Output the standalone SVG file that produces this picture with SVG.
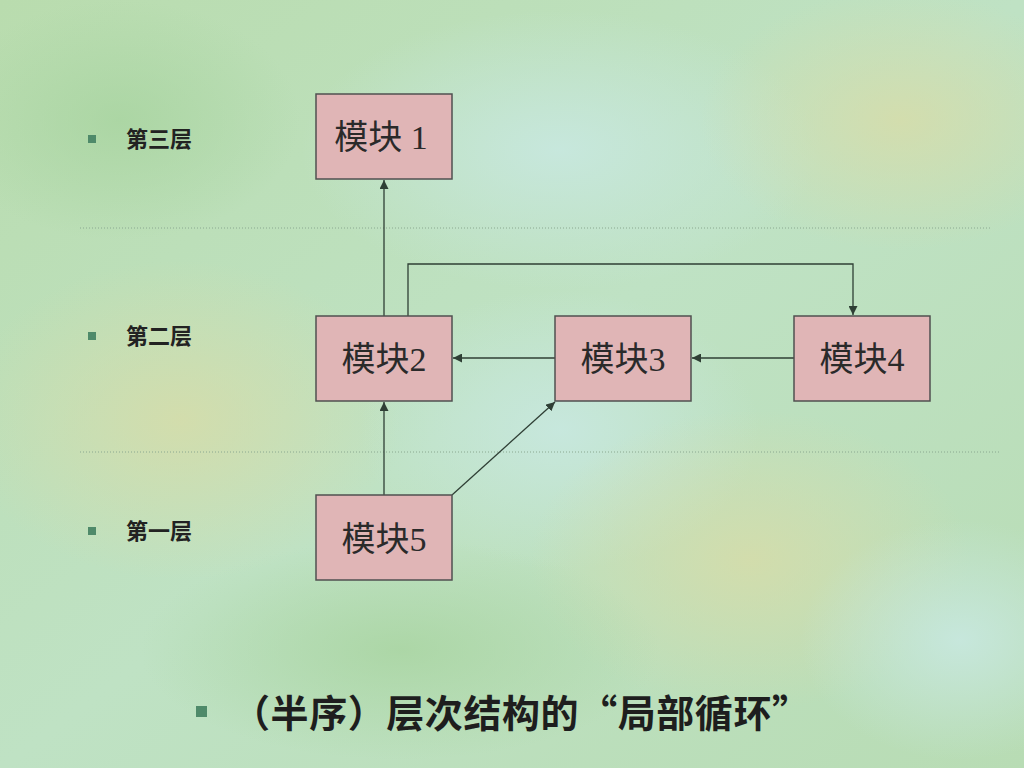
<svg xmlns="http://www.w3.org/2000/svg" width="1024" height="768" viewBox="0 0 1024 768">
<defs>
<linearGradient id="bg" x1="0" y1="0" x2="1" y2="1">
<stop offset="0" stop-color="#b9dcae"/>
<stop offset="0.5" stop-color="#bfe2c4"/>
<stop offset="1" stop-color="#b8dcb4"/>
</linearGradient>
<radialGradient id="b1" cx="0.5" cy="0.5" r="0.5">
<stop offset="0" stop-color="#c8e8e0" stop-opacity="0.9"/>
<stop offset="1" stop-color="#c8e8e0" stop-opacity="0"/>
</radialGradient>
<radialGradient id="y1" cx="0.5" cy="0.5" r="0.5">
<stop offset="0" stop-color="#d8dca8" stop-opacity="0.8"/>
<stop offset="1" stop-color="#d8dca8" stop-opacity="0"/>
</radialGradient>
<radialGradient id="g1" cx="0.5" cy="0.5" r="0.5">
<stop offset="0" stop-color="#a8d4a0" stop-opacity="0.8"/>
<stop offset="1" stop-color="#a8d4a0" stop-opacity="0"/>
</radialGradient>
<marker id="arr" viewBox="0 0 10 10" refX="10" refY="5" markerWidth="9" markerHeight="9" markerUnits="userSpaceOnUse" orient="auto">
<path d="M0,0 L10,5 L0,10 Z" fill="#2f3f35"/>
</marker>
<style>
.box{fill:#e0b5b6;stroke:#505050;stroke-width:1.5}
.bt{font-family:"Liberation Serif","Noto Sans CJK SC",serif;font-size:34px;fill:#2a2a2a;text-anchor:middle}
.lab{font-family:"Noto Sans CJK SC",sans-serif;font-size:22px;font-weight:bold;fill:#222}
.bul{fill:#4f8a6a}
.con{fill:none;stroke:#2f3f35;stroke-width:1.3}
.dot{stroke:#8aa890;stroke-width:1;stroke-dasharray:1 2}
</style>
</defs>
<rect width="1024" height="768" fill="url(#bg)"/>
<ellipse cx="560" cy="150" rx="260" ry="140" fill="url(#b1)"/>
<ellipse cx="180" cy="420" rx="220" ry="160" fill="url(#y1)"/>
<ellipse cx="560" cy="430" rx="200" ry="140" fill="url(#b1)"/>
<ellipse cx="750" cy="560" rx="220" ry="150" fill="url(#y1)"/>
<ellipse cx="900" cy="120" rx="200" ry="130" fill="url(#y1)"/>
<ellipse cx="120" cy="120" rx="180" ry="120" fill="url(#g1)"/>
<ellipse cx="400" cy="650" rx="260" ry="110" fill="url(#g1)"/>
<ellipse cx="960" cy="640" rx="160" ry="120" fill="url(#b1)"/>
<line class="dot" x1="80" y1="228" x2="990" y2="228"/>
<line class="dot" x1="80" y1="452" x2="1000" y2="452"/>
<g id="labels">
<rect class="bul" x="88" y="135" width="8" height="8"/>
<text class="lab" x="126" y="147">第三层</text>
<rect class="bul" x="88" y="332" width="8" height="8"/>
<text class="lab" x="126" y="344">第二层</text>
<rect class="bul" x="88" y="527" width="8" height="8"/>
<text class="lab" x="126" y="539">第一层</text>
</g>
<g id="connectors">
<line class="con" x1="384" y1="316" x2="384" y2="180" marker-end="url(#arr)"/>
<polyline class="con" points="408,316 408,264 853,264 853,315" marker-end="url(#arr)"/>
<line class="con" x1="555" y1="358" x2="453" y2="358" marker-end="url(#arr)"/>
<line class="con" x1="794" y1="358" x2="692" y2="358" marker-end="url(#arr)"/>
<line class="con" x1="384" y1="495" x2="384" y2="402" marker-end="url(#arr)"/>
<line class="con" x1="452" y1="495" x2="555" y2="402" marker-end="url(#arr)"/>
</g>
<g id="node1"><rect class="box" x="316" y="94" width="136" height="85"/><text class="bt" x="381" y="149">模块 1</text></g>
<g id="node2"><rect class="box" x="316" y="316" width="136" height="85"/><text class="bt" x="384" y="371">模块2</text></g>
<g id="node3"><rect class="box" x="555" y="316" width="136" height="85"/><text class="bt" x="623" y="371">模块3</text></g>
<g id="node4"><rect class="box" x="794" y="316" width="136" height="85"/><text class="bt" x="862" y="371">模块4</text></g>
<g id="node5"><rect class="box" x="316" y="495" width="136" height="85"/><text class="bt" x="384" y="551">模块5</text></g>
<g id="caption">
<rect class="bul" x="196" y="706" width="11" height="11"/>
<text x="232" y="727" font-family="'Noto Sans CJK SC',sans-serif" font-size="38" font-weight="bold" fill="#1e1e1e" textLength="578" lengthAdjust="spacing">（半序）层次结构的“局部循环”</text>
</g>
</svg>
